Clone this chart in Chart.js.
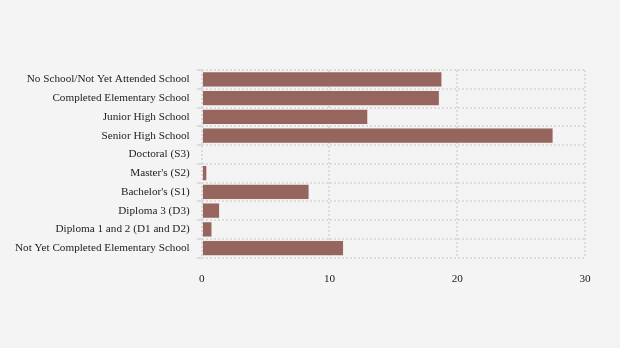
<!DOCTYPE html>
<html>
<head>
<meta charset="utf-8">
<script src="https://cdn.jsdelivr.net/npm/chart.js@4/dist/chart.umd.min.js"></script>
<style>
  html, body { margin: 0; padding: 0; background: #f4f4f4; }
  #wrap { width: 620px; height: 348px; }
</style>
</head>
<body>
<div id="wrap"><canvas id="chart"></canvas></div>
<script>
const categories = [
  'No School/Not Yet Attended School',
  'Completed Elementary School',
  'Junior High School',
  'Senior High School',
  'Doctoral (S3)',
  "Master's (S2)",
  "Bachelor's (S1)",
  'Diploma 3 (D3)',
  'Diploma 1 and 2 (D1 and D2)',
  'Not Yet Completed Elementary School'
];
const values = [18.8, 18.6, 13.0, 27.5, 0, 0.4, 8.4, 1.4, 0.8, 11.1];
const xTicks = [0, 10, 20, 30];

const gridColor = '#dcdcdc';

new Chart(document.getElementById('chart'), {
  type: 'bar',
  data: {
    labels: categories,
    datasets: [{
      data: values,
      backgroundColor: '#96665e',
      borderColor: '#f0d6d2',
      borderWidth: 0.5,
      barPercentage: 0.9,
      categoryPercentage: 0.9
    }]
  },
  options: {
    indexAxis: 'y',
    responsive: true,
    maintainAspectRatio: false,
    animation: false,
    layout: { padding: { left: 8, right: 35, top: 70, bottom: 47 } },
    plugins: { legend: { display: false }, tooltip: { enabled: false } },
    scales: {
      x: {
        min: 0,
        max: 30,
        afterBuildTicks: (axis) => { axis.ticks = xTicks.map(v => ({ value: v })); },
        grid: { color: gridColor, drawTicks: false, lineWidth: 2 },
        border: { display: false, color: gridColor, width: 2, dash: [2, 2] },
        ticks: { color: '#222', padding: 15, font: { family: 'Liberation Serif', size: 11.2 } }
      },
      y: {
        grid: { color: gridColor, tickLength: 5, lineWidth: 2 },
        border: { display: false, color: gridColor, width: 2, dash: [2, 2] },
        ticks: { color: '#222', padding: 7, font: { family: 'Liberation Serif', size: 11.2 } }
      }
    }
  }
});
</script>
</body>
</html>
